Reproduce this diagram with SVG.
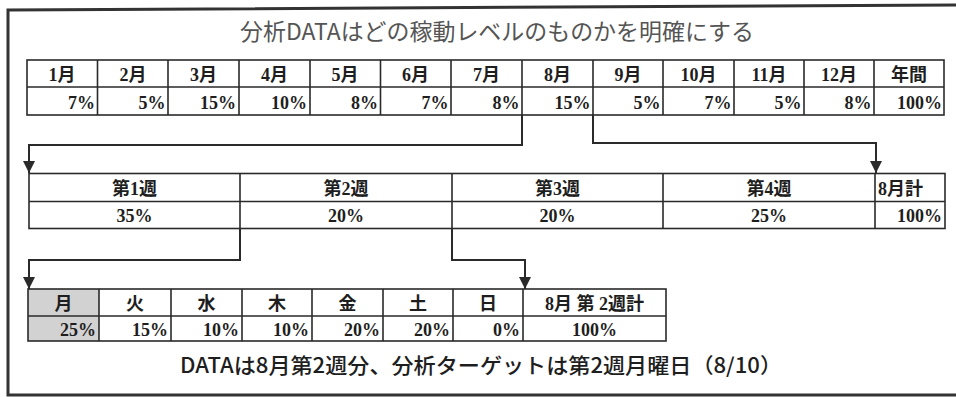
<svg xmlns="http://www.w3.org/2000/svg" width="956" height="397" viewBox="0 0 956 397">
<style>
.grid{fill:none;stroke:#2a2a2a;stroke-width:1.6}
.cell{font-family:"Liberation Serif","Noto Sans CJK JP",serif;font-weight:bold;font-size:18px;fill:#1e1e1e}
.c{text-anchor:middle}
.r{text-anchor:end}
.conn{fill:none;stroke:#2a2a2a;stroke-width:2}
.title{font-family:"Noto Sans CJK JP","Noto Sans",sans-serif;font-size:23px;fill:#555;text-anchor:middle}
.foot{font-family:"Noto Sans CJK JP","Noto Sans",sans-serif;font-size:21px;font-weight:500;fill:#1e1e1e;text-anchor:middle}
</style>
<defs>
<marker id="ah" markerUnits="userSpaceOnUse" markerWidth="12" markerHeight="12" refX="12" refY="6" orient="auto">
<path d="M0,0 L12,6 L0,12 z" fill="#2a2a2a"/>
</marker>
</defs>
<rect width="956" height="397" fill="#fff"/>
<path d="M956,5 L8,10 L8,395 L956,395" fill="none" stroke="#333" stroke-width="3"/>

<g id="title">
<text class="title" x="497" y="40" textLength="514" lengthAdjust="spacingAndGlyphs">分析DATAはどの稼動レベルのものかを明確にする</text>
</g>

<g id="month-table">
<rect class="grid" x="27" y="60" width="917" height="55"/>
<path class="grid" d="M27,87 H944 M97.5,60 V115 M168,60 V115 M239,60 V115 M310,60 V115 M380.5,60 V115 M451,60 V115 M522,60 V115 M593,60 V115 M663,60 V115 M734,60 V115 M804,60 V115 M874,60 V115"/>
<g class="cell c">
<text x="62" y="81">1月</text><text x="133" y="81">2月</text><text x="203.5" y="81">3月</text><text x="274.5" y="81">4月</text><text x="345" y="81">5月</text><text x="415.5" y="81">6月</text><text x="486.5" y="81">7月</text><text x="557.5" y="81">8月</text><text x="628" y="81">9月</text><text x="698.5" y="81">10月</text><text x="769" y="81">11月</text><text x="839" y="81">12月</text><text x="909" y="81">年間</text>
</g>
<g class="cell r">
<text x="95" y="109">7%</text><text x="165.5" y="109">5%</text><text x="236" y="109">15%</text><text x="307" y="109">10%</text><text x="378" y="109">8%</text><text x="448.5" y="109">7%</text><text x="519.5" y="109">8%</text><text x="590.5" y="109">15%</text><text x="660.5" y="109">5%</text><text x="731.5" y="109">7%</text><text x="801.5" y="109">5%</text><text x="871.5" y="109">8%</text><text x="942" y="109">100%</text>
</g>
</g>

<g id="week-table">
<rect class="grid" x="29" y="173.5" width="916" height="55"/>
<path class="grid" d="M29,201.5 H945 M240,173.5 V228.5 M452,173.5 V228.5 M663,173.5 V228.5 M875,173.5 V228.5"/>
<g class="cell c">
<text x="134.5" y="195">第1週</text><text x="346" y="195">第2週</text><text x="557.5" y="195">第3週</text><text x="769" y="195">第4週</text>
<text x="134.5" y="222">35%</text><text x="346" y="222">20%</text><text x="557.5" y="222">20%</text><text x="769" y="222">25%</text>
</g>
<text class="cell" x="878" y="195">8月計</text>
<text class="cell r" x="942" y="222">100%</text>
</g>

<g id="day-table">
<rect x="28" y="289" width="71" height="52" fill="#d2d2d2"/>
<rect class="grid" x="28" y="289" width="638" height="52"/>
<path class="grid" d="M28,316 H666 M99,289 V341 M171,289 V341 M242,289 V341 M312,289 V341 M383,289 V341 M453,289 V341 M523,289 V341"/>
<g class="cell c">
<text x="63.5" y="310">月</text><text x="135" y="310">火</text><text x="206.5" y="310">水</text><text x="277" y="310">木</text><text x="347.5" y="310">金</text><text x="418" y="310">土</text><text x="488" y="310">日</text><text x="594.5" y="310">8月 第 2週計</text>
<text x="594.5" y="336">100%</text>
</g>
<g class="cell r">
<text x="96" y="336">25%</text><text x="168" y="336">15%</text><text x="239" y="336">10%</text><text x="309" y="336">10%</text><text x="380" y="336">20%</text><text x="450" y="336">20%</text><text x="520" y="336">0%</text>
</g>
</g>

<g id="footer">
<text class="foot" x="481" y="373" textLength="602" lengthAdjust="spacingAndGlyphs">DATAは8月第2週分、分析ターゲットは第2週月曜日（8/10）</text>
</g>

<g id="connectors">
<path class="conn" d="M522,115 V145 H29 V173" marker-end="url(#ah)"/>
<path class="conn" d="M593,115 V143 H876 V173" marker-end="url(#ah)"/>
<path class="conn" d="M240,228.5 V260 H29 V289" marker-end="url(#ah)"/>
<path class="conn" d="M452,228.5 V260 H525 V289" marker-end="url(#ah)"/>
</g>
</svg>
